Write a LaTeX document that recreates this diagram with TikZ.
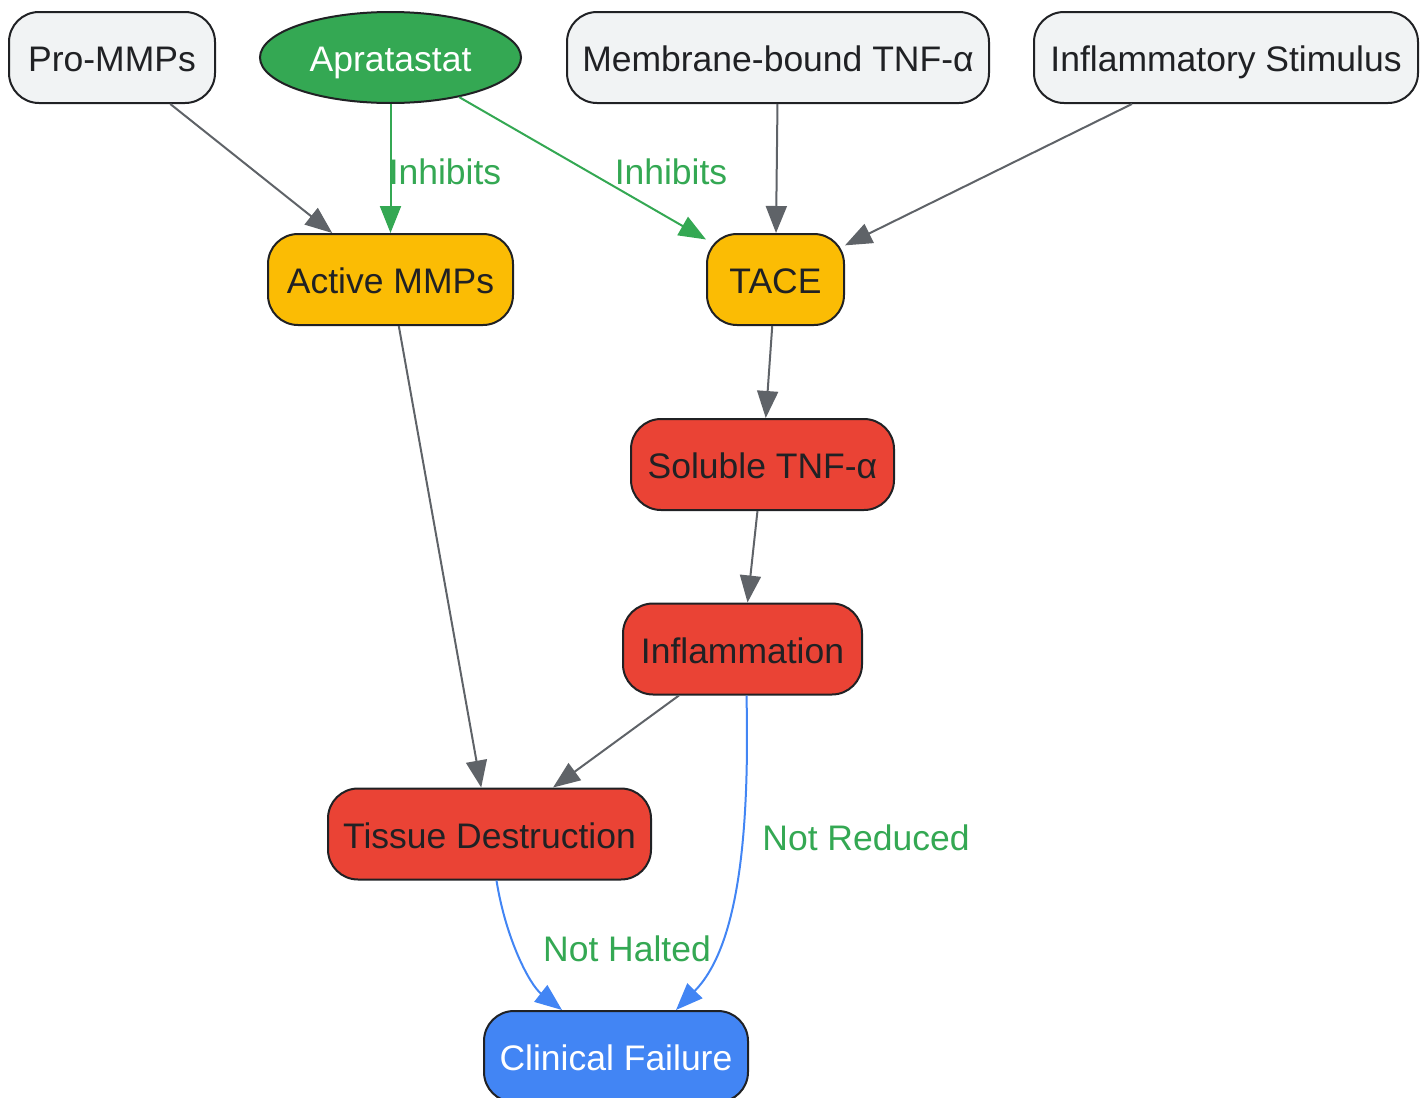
\documentclass[tikz,border=0pt]{standalone}
\usepackage{fontspec}
\setmainfont{Liberation Sans}
\usetikzlibrary{arrows.meta,shapes.geometric}
\definecolor{grayfill}{HTML}{F1F3F4}
\definecolor{strokec}{HTML}{202124}
\definecolor{edgegray}{HTML}{5F6368}
\definecolor{ggreen}{HTML}{34A853}
\definecolor{gyellow}{HTML}{FBBC04}
\definecolor{gred}{HTML}{EA4335}
\definecolor{gblue}{HTML}{4285F4}
\tikzset{
  box/.style={draw=strokec, line width=2pt, rounded corners=30pt, minimum height=91pt,
    inner sep=0pt, text=strokec, text height=28.4pt, text depth=0pt,
    font=\fontsize{35.5}{42}\selectfont},
  graybox/.style={box, fill=grayfill},
  yelbox/.style={box, fill=gyellow},
  redbox/.style={box, fill=gred},
  bluebox/.style={box, fill=gblue, text=white},
  drug/.style={ellipse, draw=strokec, line width=2pt, fill=ggreen, text=white,
    minimum width=261pt, minimum height=91pt, inner sep=0pt, text height=28.4pt, text depth=0pt,
    font=\fontsize{35.5}{42}\selectfont},
  conn/.style={draw=edgegray, line width=2pt, -{Triangle[length=27pt,width=21pt]}},
  inh/.style={draw=ggreen, line width=2pt, -{Triangle[length=27pt,width=21pt]}},
  fail/.style={draw=gblue, line width=2pt, -{Triangle[length=27pt,width=21pt]}},
  lbl/.style={text=ggreen, inner sep=0pt, text height=28.4pt, text depth=0pt,
    font=\fontsize{35.5}{42}\selectfont},
}
\begin{document}
\begin{tikzpicture}[x=1pt,y=-1pt]
\useasboundingbox (0,0) rectangle (1428,1098);
\node[graybox, minimum width=206pt] (pro) at (112,57.5) {Pro-MMPs};
\node[drug] (apr) at (390.5,57.5) {Apratastat};
\node[graybox, minimum width=422pt] (mem) at (778,57.5) {Membrane-bound TNF-α};
\node[graybox, minimum width=384pt] (stim) at (1226,57.5) {Inflammatory Stimulus};
\node[yelbox, minimum width=245pt] (amm) at (390.5,279.5) {Active MMPs};
\node[yelbox, minimum width=137pt] (tace) at (775.5,279.5) {TACE};
\node[redbox, minimum width=263pt] (sol) at (762.5,464.5) {Soluble TNF-α};
\node[redbox, minimum width=239pt] (infl) at (742.5,649) {Inflammation};
\node[redbox, minimum width=323pt] (tis) at (489.5,834) {Tissue Destruction};
\node[bluebox, minimum width=264pt] (clin) at (616,1056.5) {Clinical Failure};

\draw[conn] (pro) -- (amm);
\draw[inh] (apr) -- (amm);
\draw[inh] (apr) -- (tace);
\draw[conn] (mem) -- (tace);
\draw[conn] (stim) -- (tace);
\draw[conn] (amm) -- (tis);
\draw[conn] (tace) -- (sol);
\draw[conn] (sol) -- (infl);
\draw[conn] (infl) -- (tis);
\draw[fail] ([xshift=4pt]infl.south) .. controls (750,850) and (735,950) .. ([xshift=60pt]clin.north);
\draw[fail] ([xshift=7pt]tis.south) .. controls (506,940) and (530,985) .. ([xshift=-54pt]clin.north);

\node[lbl] (l1) at (445,170) {Inhibits};
\node[lbl] (l2) at (671,170) {Inhibits};
\node[lbl] (l3) at (866,836) {Not Reduced};
\node[lbl] (l4) at (627,947) {Not Halted};
\end{tikzpicture}
\end{document}
